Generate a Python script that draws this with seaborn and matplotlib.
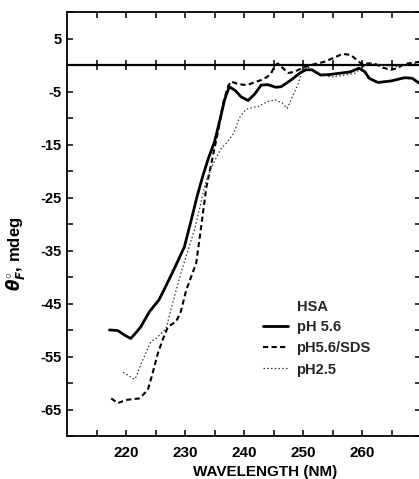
import numpy as np
import pandas as pd
import matplotlib
matplotlib.use("Agg")
import matplotlib.pyplot as plt
from matplotlib.lines import Line2D
import seaborn as sns

# ---- data ----
ph56_x = [217.2, 218.6, 219.8, 220.8, 221.7, 222.5, 224.0, 225.6, 226.5, 228.2, 229.9, 231.0,
          232.0, 233.0, 234.0, 235.0, 236.0, 236.7, 237.5, 238.5, 239.5, 240.7, 241.8, 242.9,
          244.0, 245.4, 246.3, 248.0, 249.5, 250.5, 251.5, 253.0, 254.5, 255.9, 258.0, 259.5,
          260.5, 261.2, 262.7, 265.0, 267.2, 268.5, 269.8]
ph56_y = [-50.0, -50.1, -51.0, -51.6, -50.5, -49.4, -46.5, -44.3, -42.3, -38.4, -34.3, -29.5,
          -25.0, -21.0, -17.5, -14.5, -10.0, -6.6, -4.1, -4.8, -6.0, -6.7, -5.5, -3.8,
          -3.7, -4.2, -4.1, -2.8, -1.5, -0.9, -0.9, -1.9, -1.8, -1.6, -1.3, -0.6,
          -1.3, -2.5, -3.3, -3.0, -2.4, -2.5, -3.5]

sds_x = [217.5, 218.6, 220.0, 222.3, 223.7, 224.5, 225.4, 226.2, 227.1, 228.5, 229.3, 230.2,
         231.9, 232.8, 233.6, 234.7, 235.7, 236.5, 237.3, 237.8, 239.0, 240.5, 241.7, 243.0,
         244.0, 244.6, 245.1, 245.7, 246.5, 247.5, 248.5, 250.0, 251.4, 253.6, 255.5, 256.7,
         258.1, 259.8, 262.1, 263.5, 264.9, 266.0, 267.2, 269.8]
sds_y = [-62.9, -63.8, -63.2, -62.9, -61.3, -58.2, -54.4, -51.9, -49.4, -48.4, -46.5, -42.5,
         -37.4, -30.0, -23.2, -17.3, -12.0, -7.0, -4.0, -3.1, -3.6, -3.8, -3.3, -2.8,
         -2.2, -1.6, -0.3, 0.3, -0.5, -1.5, -1.3, -0.5, 0.0, 0.6, 1.5, 2.1,
         1.9, 0.3, 0.3, -0.5, -0.9, -0.6, 0.2, 0.6]

ph25_x = [219.5, 220.3, 221.4, 221.7, 222.5, 223.1, 224.2, 225.1, 226.8, 227.6, 228.5, 229.5,
          230.5, 231.6, 232.5, 233.4, 234.4, 235.3, 236.1, 237.2, 238.3, 239.2, 240.3, 241.5,
          242.5, 244.0, 245.3, 246.5, 247.3, 248.2, 249.2, 250.0, 251.0, 252.5, 254.7, 256.5,
          258.7, 261.0, 263.2, 266.0, 269.4]
ph25_y = [-58.0, -58.5, -59.3, -58.9, -56.5, -55.0, -52.2, -51.6, -49.7, -46.2, -42.5, -38.5,
          -35.0, -31.1, -27.0, -22.5, -19.5, -17.5, -15.8, -14.5, -12.8, -10.0, -8.4, -8.0,
          -7.8, -6.9, -6.6, -7.2, -8.2, -6.0, -3.5, -0.5, -0.5, -1.5, -2.3, -2.0,
          -1.6, 0.3, 0.0, -0.3, 0.4]

series_labels = ["pH 5.6", "pH5.6/SDS", "pH2.5"]
legend_title = "HSA"
x_ticks_major = [220, 230, 240, 250, 260]
y_ticks_major = [5, -5, -15, -25, -35, -45, -55, -65]

# ---- style ----
sns.set_theme(style="white")
plt.rcParams["font.family"] = ["Liberation Sans", "DejaVu Sans"]
plt.rcParams["font.weight"] = "bold"
plt.rcParams["axes.unicode_minus"] = False
plt.rcParams["mathtext.fontset"] = "custom"
plt.rcParams["mathtext.rm"] = "Liberation Sans:bold"
plt.rcParams["mathtext.it"] = "DejaVu Sans:bold:italic"
plt.rcParams["mathtext.bf"] = "Liberation Sans:bold"

fig = plt.figure(figsize=(4.19, 4.79), dpi=100)
W, H = 419, 479
left, right, top, bottom = 67, 421, 12, 436
ax = fig.add_axes([left / W, 1 - bottom / H, (right - left) / W, (bottom - top) / H])

df1 = pd.DataFrame({"x": ph56_x, "y": ph56_y})
df2 = pd.DataFrame({"x": sds_x, "y": sds_y})
df3 = pd.DataFrame({"x": ph25_x, "y": ph25_y})

sns.lineplot(data=df1, x="x", y="y", ax=ax, color="black", lw=2.0, sort=False,
             estimator=None)
sns.lineplot(data=df2, x="x", y="y", ax=ax, color="black", lw=1.5, sort=False,
             estimator=None)
ax.lines[-1].set_dashes((2.5, 1.6))
sns.lineplot(data=df3, x="x", y="y", ax=ax, color="#333333", lw=0.9, sort=False,
             estimator=None)
ax.lines[-1].set_dashes((1.2, 1.8))

ax.set_xlim(210, 270)
ax.set_ylim(-70, 10)

ax.set_xticks(x_ticks_major)
ax.set_xticks(np.arange(215, 270, 5), minor=True)
ax.set_yticks(y_ticks_major)
ax.set_yticks(np.arange(-70, 11, 10), minor=True)
ax.set_xticklabels([str(v) for v in x_ticks_major])
ax.set_yticklabels([str(v) for v in y_ticks_major])

for s in ax.spines.values():
    s.set_color("black")
    s.set_linewidth(1.3)

ax.tick_params(axis="both", which="both", direction="in", length=4, width=1.1,
               color="black", top=True, right=True, bottom=True, left=True)
ax.tick_params(axis="x", which="major", labelsize=11, pad=7, labelcolor="black")
ax.tick_params(axis="y", which="major", labelsize=10.5, pad=4, labelcolor="black")
for lab in ax.get_xticklabels() + ax.get_yticklabels():
    lab.set_fontweight("bold")

# zero line with crossing ticks
zax = ax.secondary_xaxis(70 / 80)
zax.set_xticks(np.arange(215, 270, 5))
zax.tick_params(direction="inout", length=7, width=1.1, labelbottom=False,
                labeltop=False, color="black")
zax.spines["top"].set_linewidth(1.6)
zax.spines["bottom"].set_linewidth(1.6)
zax.spines["top"].set_color("black")
zax.spines["bottom"].set_color("black")

ax.set_xlabel("WAVELENGTH (NM)", fontsize=11, fontweight="bold", color="black")
ax.xaxis.set_label_coords((265 - left) / (right - left), -(465 - bottom) / (bottom - top))
ax.set_ylabel(r"$\theta^{\circ}_{F}$, mdeg", fontsize=12, fontweight="bold", color="black")
ax.yaxis.set_label_coords(-(left - 27) / (right - left), (bottom - 254) / (bottom - top))

handles = [
    Line2D([], [], color="black", lw=2.0),
    Line2D([], [], color="black", lw=1.5, dashes=(2.5, 1.6)),
    Line2D([], [], color="#333333", lw=0.9, dashes=(1.2, 1.8)),
]
leg = ax.legend(handles, series_labels, loc="upper left",
                bbox_to_anchor=((263 - left) / (right - left), (bottom - 320) / (bottom - top)),
                frameon=False, borderpad=0, borderaxespad=0, handlelength=1.7,
                handletextpad=0.6, labelspacing=0.5,
                prop={"size": 10.5, "weight": "bold"})
ax.text((297 - left) / (right - left), (bottom - 307) / (bottom - top), legend_title,
        transform=ax.transAxes, ha="left", va="center", fontsize=10.5, fontweight="bold")

fig.savefig("out.png", dpi=100)
